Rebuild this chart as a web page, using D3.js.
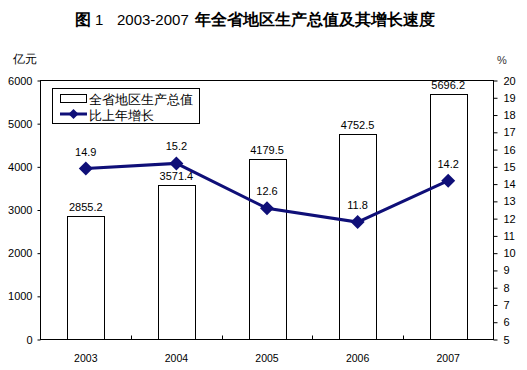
<!DOCTYPE html>
<html><head><meta charset="utf-8">
<script src="https://cdn.jsdelivr.net/npm/d3@7"></script>
<style>body{margin:0;background:#fff}svg{display:block}text{font-family:"Liberation Sans",Arial,sans-serif}</style>
</head><body><svg id="c" width="527" height="370"></svg>
<script>
const years = ["2003","2004","2005","2006","2007"];
const gdp = [2855.2, 3571.4, 4179.5, 4752.5, 5696.2];
const growth = [14.9, 15.2, 12.6, 11.8, 14.2];
const leftTicks = [0,1000,2000,3000,4000,5000,6000];
const rightTicks = d3.range(5,21);

const svg = d3.select("#c");
const L=40.5, R=493.5, T=80.5, B=339.5;
const cjk = '"Noto Sans CJK SC",sans-serif';
const x = d3.scaleBand().domain(years).range([L,R]);
const yL = d3.scaleLinear().domain([0,6000]).range([B,T]);
const yR = d3.scaleLinear().domain([5,20]).range([B,T]);

// title
svg.append("text").attr("x",75).attr("y",25).attr("font-family",cjk).attr("font-weight","bold").attr("font-size",16).text("图");
svg.append("text").attr("x",95).attr("y",25).attr("font-size",15).text("1");
svg.append("text").attr("x",117).attr("y",25).attr("font-size",15).text("2003-2007");
svg.append("text").attr("x",195).attr("y",25).attr("font-family",cjk).attr("font-weight","bold").attr("font-size",16).text("年全省地区生产总值及其增长速度");

svg.append("text").attr("x",13).attr("y",63).attr("font-family",cjk).attr("font-size",12).text("亿元");
svg.append("text").attr("x",497).attr("y",64).attr("font-size",11).attr("fill","#333").text("%");

// frame
svg.append("rect").attr("x",L).attr("y",T).attr("width",R-L).attr("height",B-T).attr("fill","none").attr("stroke","#000");

// left axis
const la = svg.append("g").attr("transform",`translate(${L},0)`).call(d3.axisLeft(yL).tickValues(leftTicks).tickSize(3).tickFormat(d3.format("d")));
la.select(".domain").remove();
la.selectAll("text").attr("font-size",11).attr("font-family","Liberation Sans, Arial").attr("x",-8);

// right axis
const ra = svg.append("g").attr("transform",`translate(${R},0)`).call(d3.axisRight(yR).tickValues(rightTicks).tickSize(4));
ra.select(".domain").remove();
ra.selectAll("text").attr("font-size",11).attr("font-family","Liberation Sans, Arial").attr("x",10);

// bottom ticks at boundaries
const bnd = years.slice(1).map(y=>x(y));
svg.append("g").selectAll("line").data(bnd).join("line")
 .attr("x1",d=>Math.round(d)+0.5).attr("x2",d=>Math.round(d)+0.5).attr("y1",B).attr("y2",B-4).attr("stroke","#000");
svg.append("g").selectAll("text").data(years).join("text")
 .attr("x",d=>x(d)+x.bandwidth()/2).attr("y",B+22).attr("text-anchor","middle").attr("font-size",10.5).text(d=>d);

// bars
const bw = 37;
svg.append("g").selectAll("rect").data(years).join("rect")
 .attr("x",d=>Math.round(x(d)+x.bandwidth()/2-bw/2)+0.5).attr("width",bw)
 .attr("y",(d,i)=>Math.round(yL(gdp[i]))+0.5).attr("height",(d,i)=>B-Math.round(yL(gdp[i]))-0.5)
 .attr("fill","#fff").attr("stroke","#000");
svg.append("g").selectAll("text").data(years).join("text")
 .attr("x",d=>x(d)+x.bandwidth()/2).attr("y",(d,i)=>yL(gdp[i])-5).attr("text-anchor","middle").attr("font-size",11).text((d,i)=>gdp[i].toFixed(1));

// line
const lc = "#0f0f78";
const pts = years.map((d,i)=>[x(d)+x.bandwidth()/2, yR(growth[i])]);
svg.append("path").attr("d",d3.line()(pts)).attr("fill","none").attr("stroke",lc).attr("stroke-width",3);
svg.append("g").selectAll("path").data(pts).join("path")
 .attr("d",d=>`M${d[0]},${d[1]-7}L${d[0]+7},${d[1]}L${d[0]},${d[1]+7}L${d[0]-7},${d[1]}Z`).attr("fill",lc);
svg.append("g").selectAll("text").data(pts).join("text")
 .attr("x",d=>d[0]).attr("y",d=>d[1]-13).attr("text-anchor","middle").attr("font-size",11).text((d,i)=>growth[i].toFixed(1));

// legend
const lg = svg.append("g");
lg.append("rect").attr("x",52.5).attr("y",88.5).attr("width",147).attr("height",35).attr("fill","#fff").attr("stroke","#000");
lg.append("rect").attr("x",60.5).attr("y",94.5).attr("width",26).attr("height",8).attr("fill","#fff").attr("stroke","#000");
lg.append("line").attr("x1",60).attr("x2",87).attr("y1",114).attr("y2",114).attr("stroke",lc).attr("stroke-width",3);
lg.append("path").attr("d","M73.5,109L78.5,114L73.5,119L68.5,114Z").attr("fill",lc);
lg.append("text").attr("x",89).attr("y",104).attr("font-family",cjk).attr("font-size",13).text("全省地区生产总值");
lg.append("text").attr("x",89).attr("y",120).attr("font-family",cjk).attr("font-size",13).text("比上年增长");
</script></body></html>
